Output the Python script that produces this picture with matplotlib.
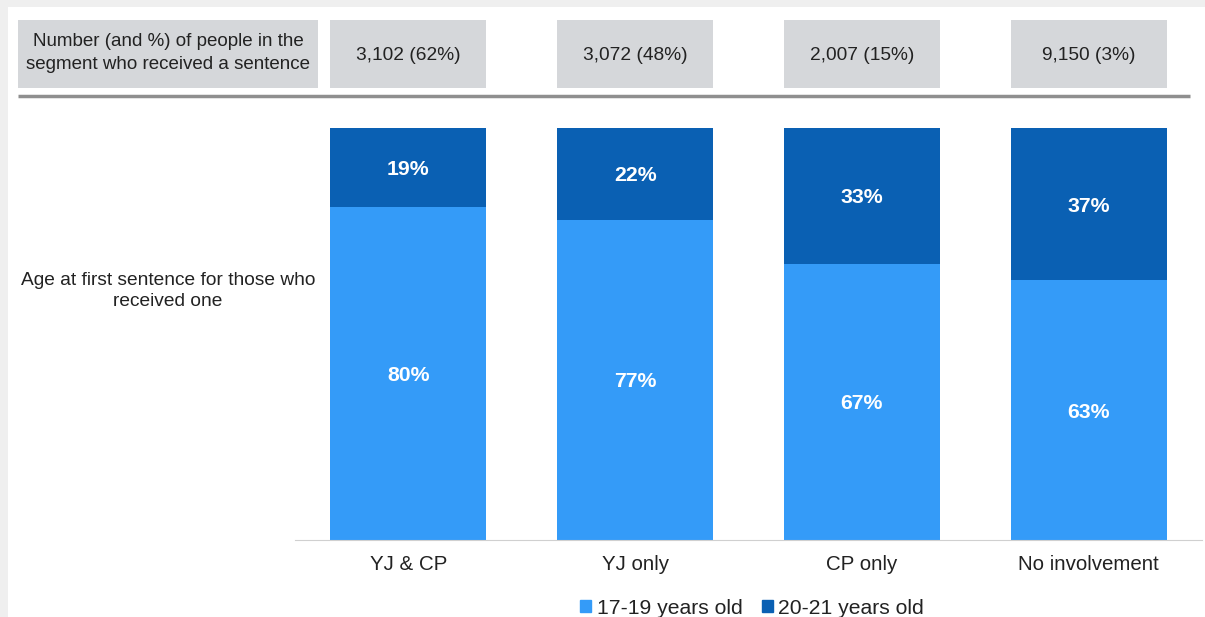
import numpy as np
import matplotlib.pyplot as plt
from matplotlib.patches import Rectangle, Patch

plt.rcParams['font.family'] = ['Liberation Sans', 'DejaVu Sans']

categories = ['YJ & CP', 'YJ only', 'CP only', 'No involvement']
young = np.array([80, 77, 67, 63])      # 17-19 years old
older = np.array([19, 22, 33, 37])      # 20-21 years old
header_vals = ['3,102 (62%)', '3,072 (48%)', '2,007 (15%)', '9,150 (3%)']
header_label = 'Number (and %) of people in the\nsegment who received a sentence'
row_label = 'Age at first sentence for those who\nreceived one'
series_names = ['17-19 years old', '20-21 years old']

c_light = '#349bf8'
c_dark = '#0a60b3'

W, H = 1205, 617
fig = plt.figure(figsize=(W / 100, H / 100), dpi=100)
fig.patch.set_facecolor('#efefef')

# white panel + header overlay in pixel coords
bg = fig.add_axes([0, 0, 1, 1])
bg.set_xlim(0, W)
bg.set_ylim(H, 0)
bg.axis('off')
bg.add_patch(Rectangle((8, 7), W - 8, H - 7, facecolor='white', edgecolor='none'))

# bars
ax = fig.add_axes([295 / W, 1 - 540 / H, (1202 - 295) / W, (540 - 128) / H])
ax.patch.set_alpha(0)
tot = young + older
yshare = young / tot * 100
oshare = older / tot * 100
x = np.arange(len(categories))
bw = 0.688
ax.bar(x, yshare, bw, color=c_light, label=series_names[0])
ax.bar(x, oshare, bw, bottom=yshare, color=c_dark, label=series_names[1])
for i in range(len(x)):
    ax.text(x[i], yshare[i] / 2, '%d%%' % young[i], ha='center', va='center_baseline',
            color='white', fontsize=15.3, fontweight='bold')
    ax.text(x[i], yshare[i] + oshare[i] / 2, '%d%%' % older[i], ha='center', va='center_baseline',
            color='white', fontsize=15.3, fontweight='bold')
ax.set_xlim(-0.5, 3.5)
ax.set_ylim(0, 100)
ax.set_yticks([])
ax.set_xticks(x)
ax.set_xticklabels(categories, fontsize=14.8, color='#222222')
ax.tick_params(axis='x', length=0, pad=11)
for s in ['top', 'right', 'left']:
    ax.spines[s].set_visible(False)
ax.spines['bottom'].set_color('#d0d0d0')

# header boxes
bg.add_patch(Rectangle((18, 20), 300, 68, facecolor='#d5d7da', edgecolor='none'))
bg.text(168, 53, header_label, ha='center', va='center', fontsize=13.5,
        color='#222222', linespacing=1.45)
xpix = 295 + (x + 0.5) * (1202 - 295) / 4
for i, v in enumerate(header_vals):
    bg.add_patch(Rectangle((xpix[i] - 78, 20), 156, 68, facecolor='#d5d7da', edgecolor='none'))
    bg.text(xpix[i], 56, v, ha='center', va='center', fontsize=13.8, color='#222222')
bg.plot([18, 1190], [96, 96], color='#8f8f8f', lw=2.5, solid_capstyle='butt')

bg.text(168, 291, row_label, ha='center', va='center', fontsize=13.8,
        color='#222222', linespacing=1.35)

handles = [Patch(color=c_light), Patch(color=c_dark)]
fig.legend(handles, series_names, loc='center', bbox_to_anchor=(752 / W, 1 - 608 / H),
           ncol=2, frameon=False, fontsize=15.2, handlelength=0.55, handleheight=0.55,
           handletextpad=0.25, columnspacing=0.9, labelcolor='#222222')

fig.savefig('out.png', dpi=100)
